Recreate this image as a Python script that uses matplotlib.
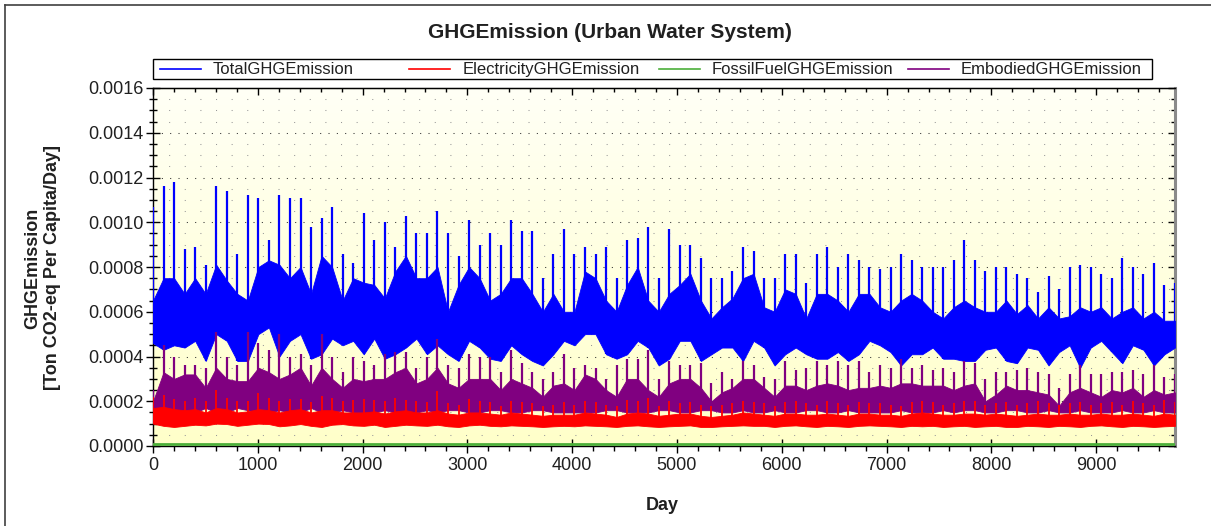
import numpy as np
import matplotlib
matplotlib.use("Agg")
import matplotlib.pyplot as plt
from matplotlib.lines import Line2D
from matplotlib.patches import Rectangle
from matplotlib.ticker import MultipleLocator, FormatStrFormatter

plt.rcParams['font.family'] = ['Liberation Sans', 'DejaVu Sans']

TITLE = "GHGEmission (Urban Water System)"
YLABEL = "GHGEmission\n[Ton CO2-eq Per Capita/Day]"
XLABEL = "Day"
SERIES = ["TotalGHGEmission", "ElectricityGHGEmission", "FossilFuelGHGEmission", "EmbodiedGHGEmission"]
DAY_MAX = 9752
N_BINS = 98   # ~100-day bins

# Total: lower edge, top of dense band, highest spike per bin
total_low = [
    0.00046, 0.00043, 0.00045, 0.00044, 0.00047, 0.00038, 0.00050, 0.00047, 0.00038, 0.00038,
    0.00050, 0.00053, 0.00040, 0.00047, 0.00050, 0.00039, 0.00041, 0.00048, 0.00045, 0.00047,
    0.00041, 0.00048, 0.00039, 0.00041, 0.00044, 0.00048, 0.00041, 0.00045, 0.00041, 0.00038,
    0.00047, 0.00044, 0.00039, 0.00038, 0.00045, 0.00041, 0.00038, 0.00036, 0.00041,
    0.00047, 0.00045, 0.00050, 0.00050, 0.00041, 0.00039, 0.00041, 0.00047, 0.00044, 0.00036,
    0.00039, 0.00047, 0.00047, 0.00038, 0.00041, 0.00044, 0.00044, 0.00038, 0.00047,
    0.00044, 0.00036, 0.00041, 0.00044, 0.00041, 0.00039, 0.00039, 0.00042, 0.00038, 0.00041,
    0.00047, 0.00045, 0.00042, 0.00036, 0.00041, 0.00041, 0.00044, 0.00039, 0.00039, 0.00038,
    0.00038, 0.00043, 0.00044, 0.00038, 0.00037, 0.00044, 0.00043, 0.00036, 0.00042, 0.00045,
    0.00035, 0.00044, 0.00047, 0.00042, 0.00037, 0.00045, 0.00043, 0.00036, 0.00041, 0.00044,
]
total_core = [
    0.00065, 0.00075, 0.00075, 0.00068, 0.00075, 0.00068, 0.00081, 0.00074, 0.00068, 0.00065,
    0.00080, 0.00083, 0.00081, 0.00075, 0.00080, 0.00068, 0.00085, 0.00080, 0.00065, 0.00075,
    0.00073, 0.00072, 0.00066, 0.00078, 0.00085, 0.00075, 0.00075, 0.00080, 0.00060, 0.00072,
    0.00080, 0.00075, 0.00065, 0.00068, 0.00075, 0.00075, 0.00068, 0.00060, 0.00068,
    0.00060, 0.00060, 0.00078, 0.00075, 0.00065, 0.00060, 0.00072, 0.00080, 0.00065, 0.00060,
    0.00068, 0.00072, 0.00077, 0.00065, 0.00057, 0.00062, 0.00066, 0.00075, 0.00077,
    0.00062, 0.00060, 0.00070, 0.00068, 0.00057, 0.00068, 0.00068, 0.00065, 0.00060, 0.00068,
    0.00068, 0.00062, 0.00060, 0.00065, 0.00068, 0.00065, 0.00060, 0.00057, 0.00062, 0.00065,
    0.00062, 0.00060, 0.00060, 0.00065, 0.00059, 0.00063, 0.00057, 0.00062, 0.00057, 0.00058,
    0.00062, 0.00060, 0.00062, 0.00057, 0.00060, 0.00062, 0.00057, 0.00060, 0.00056, 0.00056,
]
total_peak = [
    0.00107, 0.00116, 0.00118, 0.00088, 0.00089, 0.00081, 0.00116, 0.00114, 0.00086, 0.00112,
    0.00111, 0.00092, 0.00112, 0.00111, 0.00111, 0.00098, 0.00102, 0.00107, 0.00086, 0.00082,
    0.00104, 0.00092, 0.00100, 0.00089, 0.00103, 0.00095, 0.00095, 0.00105, 0.00095, 0.00085,
    0.00101, 0.00090, 0.00095, 0.00090, 0.00101, 0.00096, 0.00096, 0.00075, 0.00086,
    0.00097, 0.00086, 0.00089, 0.00086, 0.00089, 0.00075, 0.00092, 0.00093, 0.00098, 0.00075,
    0.00097, 0.00090, 0.00090, 0.00084, 0.00075, 0.00075, 0.00078, 0.00089, 0.00087,
    0.00075, 0.00075, 0.00086, 0.00086, 0.00073, 0.00086, 0.00089, 0.00080, 0.00086, 0.00083,
    0.00080, 0.00079, 0.00080, 0.00086, 0.00083, 0.00080, 0.00080, 0.00080, 0.00083, 0.00092,
    0.00083, 0.00078, 0.00080, 0.00080, 0.00077, 0.00075, 0.00069, 0.00076, 0.00070, 0.00080,
    0.00081, 0.00080, 0.00077, 0.00075, 0.00084, 0.00080, 0.00077, 0.00082, 0.00072, 0.00073,
]

# Embodied
embodied_low = [
    0.00016, 0.00015, 0.00015, 0.00016, 0.00015, 0.00017, 0.00015, 0.00015, 0.00017, 0.00016,
    0.00015, 0.00015, 0.00016, 0.00015, 0.00015, 0.00017, 0.00015, 0.00015, 0.00016, 0.00015,
    0.00015, 0.00015, 0.00016, 0.00015, 0.00015, 0.00015, 0.00016, 0.00015, 0.00016, 0.00016,
    0.00015, 0.00015, 0.00016, 0.00016, 0.00015, 0.00015, 0.00016, 0.00016, 0.00015,
    0.00015, 0.00015, 0.00015, 0.00015, 0.00016, 0.00016, 0.00015, 0.00015, 0.00015, 0.00016,
    0.00016, 0.00015, 0.00015, 0.00016, 0.00016, 0.00015, 0.00015, 0.00016, 0.00015,
    0.00015, 0.00016, 0.00015, 0.00015, 0.00016, 0.00016, 0.00015, 0.00015, 0.00016, 0.00015,
    0.00015, 0.00015, 0.00015, 0.00016, 0.00015, 0.00015, 0.00015, 0.00016, 0.00015, 0.00016,
    0.00016, 0.00015, 0.00015, 0.00016, 0.00016, 0.00015, 0.00015, 0.00016, 0.00015, 0.00015,
    0.00016, 0.00015, 0.00015, 0.00015, 0.00016, 0.00015, 0.00015, 0.00016, 0.00015, 0.00015,
]
embodied_core = [
    0.00020, 0.00033, 0.00030, 0.00032, 0.00032, 0.00026, 0.00035, 0.00030, 0.00029, 0.00029,
    0.00035, 0.00033, 0.00030, 0.00032, 0.00035, 0.00027, 0.00035, 0.00030, 0.00026, 0.00030,
    0.00029, 0.00030, 0.00030, 0.00033, 0.00035, 0.00028, 0.00030, 0.00035, 0.00028, 0.00026,
    0.00030, 0.00030, 0.00030, 0.00025, 0.00030, 0.00028, 0.00026, 0.00022, 0.00027,
    0.00028, 0.00025, 0.00032, 0.00030, 0.00025, 0.00022, 0.00030, 0.00030, 0.00025, 0.00022,
    0.00028, 0.00030, 0.00030, 0.00026, 0.00020, 0.00024, 0.00026, 0.00030, 0.00030,
    0.00026, 0.00022, 0.00027, 0.00027, 0.00025, 0.00027, 0.00028, 0.00027, 0.00025, 0.00026,
    0.00026, 0.00027, 0.00026, 0.00028, 0.00028, 0.00027, 0.00027, 0.00027, 0.00025, 0.00027,
    0.00028, 0.00020, 0.00023, 0.00027, 0.00025, 0.00025, 0.00024, 0.00023, 0.00018, 0.00024,
    0.00026, 0.00024, 0.00022, 0.00025, 0.00024, 0.00026, 0.00022, 0.00025, 0.00023, 0.00024,
]
embodied_peak = [
    0.00025, 0.00045, 0.00040, 0.00036, 0.00036, 0.00035, 0.00051, 0.00040, 0.00036, 0.00051,
    0.00046, 0.00043, 0.00050, 0.00040, 0.00041, 0.00036, 0.00050, 0.00040, 0.00033, 0.00040,
    0.00038, 0.00036, 0.00041, 0.00042, 0.00042, 0.00035, 0.00040, 0.00048, 0.00036, 0.00035,
    0.00041, 0.00040, 0.00040, 0.00033, 0.00043, 0.00037, 0.00033, 0.00030, 0.00033,
    0.00041, 0.00035, 0.00036, 0.00035, 0.00030, 0.00036, 0.00039, 0.00039, 0.00043, 0.00030,
    0.00038, 0.00036, 0.00036, 0.00037, 0.00028, 0.00033, 0.00030, 0.00038, 0.00036,
    0.00031, 0.00030, 0.00038, 0.00034, 0.00035, 0.00038, 0.00036, 0.00038, 0.00036, 0.00038,
    0.00033, 0.00036, 0.00035, 0.00039, 0.00035, 0.00036, 0.00034, 0.00035, 0.00033, 0.00038,
    0.00037, 0.00030, 0.00033, 0.00033, 0.00034, 0.00035, 0.00033, 0.00032, 0.00026, 0.00032,
    0.00036, 0.00032, 0.00032, 0.00033, 0.00033, 0.00034, 0.00032, 0.00036, 0.00031, 0.00032,
]

# Electricity
electricity_low = [
    0.000100, 0.000090, 0.000085, 0.000090, 0.000095, 0.000092, 0.000100, 0.000098, 0.000090, 0.000095,
    0.000100, 0.000098, 0.000088, 0.000092, 0.000098, 0.000090, 0.000085, 0.000095, 0.000098, 0.000092,
    0.000090, 0.000095, 0.000085, 0.000090, 0.000095, 0.000092, 0.000090, 0.000095, 0.000088, 0.000085,
    0.000092, 0.000095, 0.000090, 0.000088, 0.000092, 0.000090, 0.000088, 0.000085, 0.000088,
    0.000090, 0.000088, 0.000092, 0.000090, 0.000088, 0.000085, 0.000090, 0.000092, 0.000088, 0.000085,
    0.000088, 0.000090, 0.000092, 0.000085, 0.000085, 0.000088, 0.000090, 0.000092, 0.000090,
    0.000090, 0.000085, 0.000090, 0.000092, 0.000088, 0.000085, 0.000090, 0.000088, 0.000085, 0.000090,
    0.000092, 0.000090, 0.000088, 0.000085, 0.000090, 0.000088, 0.000090, 0.000085, 0.000088, 0.000090,
    0.000085, 0.000088, 0.000090, 0.000085, 0.000085, 0.000090, 0.000088, 0.000085, 0.000090, 0.000088,
    0.000085, 0.000090, 0.000092, 0.000088, 0.000085, 0.000090, 0.000088, 0.000085, 0.000088, 0.000090,
]
electricity_core = [
    0.000170, 0.000175, 0.000165, 0.000160, 0.000165, 0.000150, 0.000170, 0.000165, 0.000150, 0.000155,
    0.000165, 0.000160, 0.000150, 0.000160, 0.000165, 0.000150, 0.000160, 0.000160, 0.000150, 0.000150,
    0.000150, 0.000155, 0.000145, 0.000155, 0.000160, 0.000150, 0.000150, 0.000160, 0.000145, 0.000140,
    0.000150, 0.000150, 0.000145, 0.000140, 0.000150, 0.000145, 0.000140, 0.000135, 0.000140,
    0.000140, 0.000140, 0.000150, 0.000145, 0.000140, 0.000130, 0.000145, 0.000150, 0.000145, 0.000135,
    0.000140, 0.000145, 0.000145, 0.000135, 0.000130, 0.000135, 0.000140, 0.000150, 0.000145,
    0.000140, 0.000135, 0.000145, 0.000145, 0.000140, 0.000140, 0.000145, 0.000140, 0.000135, 0.000145,
    0.000145, 0.000140, 0.000140, 0.000135, 0.000145, 0.000150, 0.000145, 0.000140, 0.000140, 0.000145,
    0.000145, 0.000140, 0.000145, 0.000140, 0.000135, 0.000140, 0.000145, 0.000140, 0.000140, 0.000145,
    0.000140, 0.000140, 0.000145, 0.000140, 0.000140, 0.000145, 0.000140, 0.000135, 0.000145, 0.000140,
]
electricity_peak = [
    0.000220, 0.000230, 0.000210, 0.000200, 0.000215, 0.000200, 0.000250, 0.000215, 0.000200, 0.000200,
    0.000235, 0.000215, 0.000200, 0.000210, 0.000210, 0.000195, 0.000225, 0.000215, 0.000200, 0.000205,
    0.000210, 0.000205, 0.000200, 0.000215, 0.000205, 0.000200, 0.000195, 0.000245, 0.000190, 0.000185,
    0.000210, 0.000200, 0.000195, 0.000180, 0.000200, 0.000195, 0.000190, 0.000180, 0.000185,
    0.000195, 0.000185, 0.000200, 0.000195, 0.000185, 0.000180, 0.000205, 0.000200, 0.000215, 0.000180,
    0.000200, 0.000190, 0.000195, 0.000185, 0.000180, 0.000185, 0.000190, 0.000200, 0.000195,
    0.000190, 0.000180, 0.000195, 0.000200, 0.000190, 0.000185, 0.000200, 0.000190, 0.000185, 0.000195,
    0.000190, 0.000190, 0.000185, 0.000180, 0.000195, 0.000200, 0.000195, 0.000185, 0.000190, 0.000200,
    0.000200, 0.000185, 0.000190, 0.000195, 0.000185, 0.000190, 0.000200, 0.000190, 0.000185, 0.000190,
    0.000195, 0.000185, 0.000190, 0.000195, 0.000185, 0.000200, 0.000190, 0.000185, 0.000205, 0.000195,
]

# Fossil fuel: flat, just above zero
fossil_days = [0, 9752]
fossil_values = [0.000008, 0.000008]

COL_TOTAL = "#0000ff"
COL_ELEC = "#ff0000"
COL_FOSSIL = "#4caf3a"
COL_EMB = "#800080"

W, H, DPI = 1211, 526, 100
fig = plt.figure(figsize=(W / DPI, H / DPI), dpi=DPI)
fig.patch.set_facecolor("white")

def px(x, y):
    return x / W, 1 - y / H

AX_L, AX_R, AX_T, AX_B = 153, 1175, 88, 446
ax = fig.add_axes([AX_L / W, 1 - AX_B / H, (AX_R - AX_L) / W, (AX_B - AX_T) / H])

# background gradient
top_c = np.array([1.0, 1.0, 0.965])
bot_c = np.array([1.0, 1.0, 0.79])
t = np.linspace(0, 1, 256)[:, None]
grad = (top_c * (1 - t) + bot_c * t)[:, None, :]
ax.imshow(grad, extent=[0, 1, 0, 1], transform=ax.transAxes, aspect="auto", zorder=-10, interpolation="bilinear")

days = np.linspace(0, DAY_MAX, N_BINS)

def draw_series(low, core, peak, color, z, lw=1.6):
    # dense band between lower edge and top of the band, plus a needle to each bin's spike
    ax.fill_between(days, low, core, color=color, lw=0.6, edgecolor=color, zorder=z)
    ax.vlines(days, low, peak, color=color, lw=lw, zorder=z)

draw_series(total_low, total_core, total_peak, COL_TOTAL, 3)
draw_series(embodied_low, embodied_core, embodied_peak, COL_EMB, 3.2)
draw_series(electricity_low, electricity_core, electricity_peak, COL_ELEC, 3.4, lw=1.3)
ax.plot(fossil_days, fossil_values, color=COL_FOSSIL, lw=2.0, zorder=3.6)

ax.set_xlim(0, DAY_MAX)
ax.set_ylim(0, 0.0016)
ax.xaxis.set_major_locator(MultipleLocator(1000))
ax.xaxis.set_minor_locator(MultipleLocator(200))
ax.yaxis.set_major_locator(MultipleLocator(0.0002))
ax.yaxis.set_minor_locator(MultipleLocator(0.00005))
ax.yaxis.set_major_formatter(FormatStrFormatter("%.4f"))

# dotted grid
ax.set_axisbelow(True)
ax.grid(True, axis="y", which="major", color="#303030", lw=0.75, linestyle=(0, (1, 7)))
ax.grid(True, axis="y", which="minor", color="#999999", lw=0.75, linestyle=(0, (1, 14)))
ax.grid(False, axis="x")

ax.tick_params(axis="y", which="major", direction="inout", length=9.5, width=1.0, labelsize=13, pad=2)
ax.tick_params(axis="y", which="minor", direction="inout", length=6, width=1.0)
ax.tick_params(axis="x", which="major", direction="inout", length=9.5, width=1.0, labelsize=13, pad=3)
ax.tick_params(axis="x", which="minor", direction="out", length=3.6, width=1.0)
for lab in ax.get_xticklabels() + ax.get_yticklabels():
    lab.set_color("#202020")

sec_x = ax.secondary_xaxis("top")
sec_x.xaxis.set_major_locator(MultipleLocator(1000))
sec_x.xaxis.set_minor_locator(MultipleLocator(200))
sec_x.tick_params(which="major", direction="in", length=5, width=1.0, labeltop=False)
sec_x.tick_params(which="minor", direction="in", length=3, width=1.0)
sec_y = ax.secondary_yaxis("right")
sec_y.yaxis.set_major_locator(MultipleLocator(0.0002))
sec_y.yaxis.set_minor_locator(MultipleLocator(0.00005))
sec_y.tick_params(which="major", direction="in", length=5, width=1.0, labelright=False)
sec_y.tick_params(which="minor", direction="in", length=3, width=1.0)
sec_y.spines["right"].set_color("#8a8a8a")
sec_y.spines["right"].set_linewidth(2.2)

for s in ["left", "bottom", "top"]:
    ax.spines[s].set_color("black")
    ax.spines[s].set_linewidth(1.0)
ax.spines["right"].set_visible(False)

# titles and labels
fig.text(*px(610, 33), TITLE, ha="center", va="center", fontsize=15, fontweight="bold", color="#202020")
fig.text(*px(43, 268), YLABEL, ha="center", va="center", rotation=90, fontsize=13,
         fontweight="bold", linespacing=1.2, multialignment="center", color="#202020")
fig.text(*px(662, 505), XLABEL, ha="center", va="center", fontsize=13, fontweight="bold", color="#202020")

# legend box
lx0, lx1, ly0, ly1 = 153, 1152, 59, 79
fig.add_artist(Rectangle(px(lx0, ly1), (lx1 - lx0) / W, (ly1 - ly0) / H, transform=fig.transFigure,
                         facecolor="white", edgecolor="black", lw=1.0))
cols = [COL_TOTAL, COL_ELEC, COL_FOSSIL, COL_EMB]
for i, (name, c) in enumerate(zip(SERIES, cols)):
    off = 249.3 * i
    x0, y0 = px(160 + off, 69)
    x1, _ = px(201 + off, 69)
    fig.add_artist(Line2D([x0, x1], [y0, y0], transform=fig.transFigure, color=c, lw=1.2))
    fig.text(*px(213 + off, 69), name, ha="left", va="center", fontsize=12, color="#202020")

# outer frame
fig.add_artist(Line2D([5 / W, 1], [1 - 5 / H, 1 - 5 / H], transform=fig.transFigure, color="#404040", lw=1.2))
fig.add_artist(Line2D([5 / W, 5 / W], [0, 1 - 5 / H], transform=fig.transFigure, color="#404040", lw=1.2))

fig.savefig("out.png", dpi=DPI)
